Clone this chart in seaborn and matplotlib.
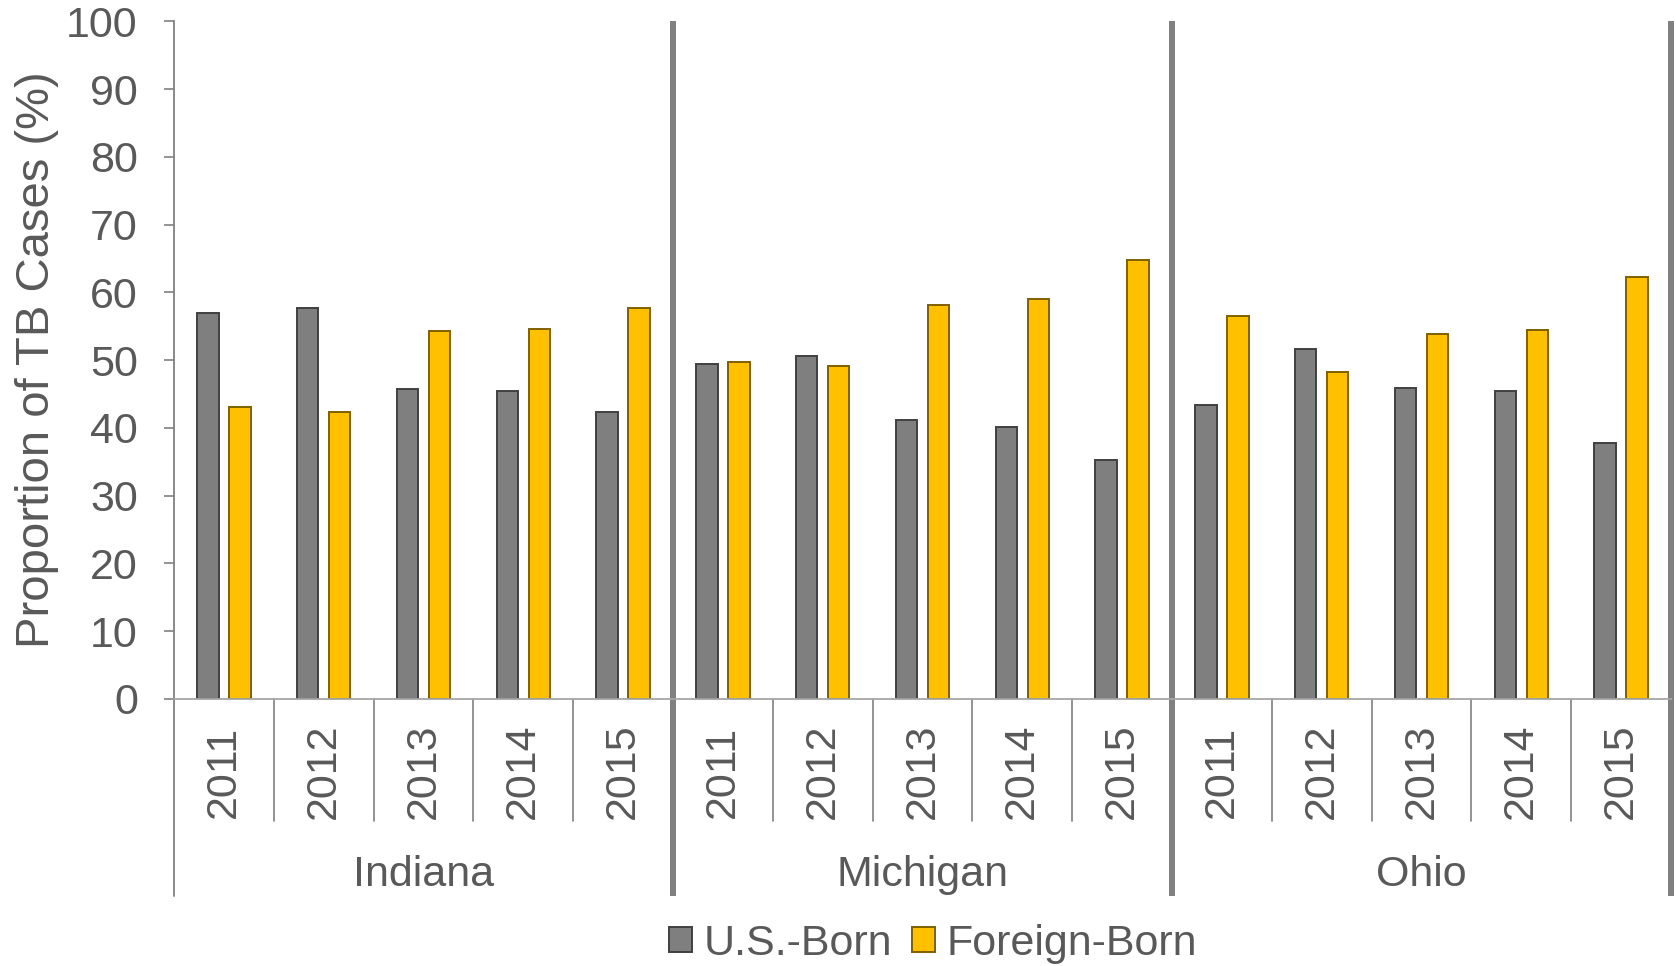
import matplotlib
matplotlib.use("Agg")
import matplotlib.pyplot as plt
import matplotlib.transforms as mtransforms
from matplotlib.patches import Patch
import seaborn as sns
import pandas as pd

states = ["Indiana", "Michigan", "Ohio"]
years = ["2011", "2012", "2013", "2014", "2015"]
series = ["U.S.-Born", "Foreign-Born"]
us_born = [56.9, 57.7, 45.7, 45.4, 42.3,
           49.4, 50.6, 41.2, 40.1, 35.2,
           43.4, 51.7, 45.9, 45.4, 37.7]
foreign_born = [43.1, 42.3, 54.3, 54.6, 57.7,
                49.7, 49.2, 58.2, 59.0, 64.8,
                56.5, 48.3, 53.9, 54.4, 62.2]
yticks = list(range(0, 101, 10))

fill_colors = {"U.S.-Born": "#7F7F7F", "Foreign-Born": "#FFC000"}
edge_colors = {"U.S.-Born": "#404040", "Foreign-Born": "#7F6000"}
text_color = "#595959"
axis_color = "#808080"

cats = [f"{s} {y}" for s in states for y in years]
rows = []
for i, c in enumerate(cats):
    rows.append({"cat": c, "group": series[0], "value": us_born[i]})
    rows.append({"cat": c, "group": series[1], "value": foreign_born[i]})
df = pd.DataFrame(rows)

sns.set_theme(style="white")
plt.rcParams["font.family"] = ["Liberation Sans", "DejaVu Sans"]

fig = plt.figure(figsize=(16.76, 9.66), dpi=100)
ax = fig.add_axes([0.1038, 0.2764, 0.997 - 0.1038, 0.978 - 0.2764])

sns.barplot(data=df, x="cat", y="value", hue="group", order=cats,
            hue_order=series, palette=fill_colors, width=0.64, gap=0.33,
            saturation=1, errorbar=None, legend=False, ax=ax)

for patch in ax.patches:
    fc = matplotlib.colors.to_hex(patch.get_facecolor())
    patch.set_edgecolor(edge_colors[series[0]] if fc.lower() == "#7f7f7f"
                        else edge_colors[series[1]])
    patch.set_linewidth(1.4)

n = len(cats)
ax.set_xlim(-0.5, n - 0.5)
ax.set_ylim(0, 100)
ax.set_yticks(yticks)
ax.set_yticklabels([str(t) for t in yticks], fontsize=31, color=text_color)
ax.tick_params(axis="y", direction="out", length=7, width=1.2,
               color=axis_color, pad=19, left=True)
ax.set_xticks([])
ax.set_xlabel("")
ax.set_ylabel("")
fig.text(37 / 1676, 1 - 360 / 966, "Proportion of TB Cases (%)", rotation=90,
         ha="center", va="center", fontsize=34, color=text_color)

for side in ["top", "right"]:
    ax.spines[side].set_visible(False)
ax.spines["left"].set_color(axis_color)
ax.spines["left"].set_linewidth(1.3)
ax.spines["bottom"].set_color("#A6A6A6")
ax.spines["bottom"].set_linewidth(1.3)

trans = mtransforms.blended_transform_factory(ax.transData, ax.transAxes)
ny = len(years)
# category boundary ticks
for i in range(n):
    if i % ny == 0:
        continue
    b = i - 0.5
    ax.plot([b, b], [0, -0.18], transform=trans, color=axis_color,
            lw=1.2, clip_on=False)
# left extension of axis
ax.plot([-0.5, -0.5], [0, -0.29], transform=trans, color=axis_color, lw=1.3,
        clip_on=False)
# state separators
for k in range(1, len(states) + 1):
    xs = k * ny - 0.5
    ax.plot([xs, xs], [-0.29, 1.0], transform=trans, color=axis_color, lw=4.3,
            clip_on=False, solid_capstyle="butt")

# year labels
for i, c in enumerate(cats):
    ax.text(i, -0.107, years[i % ny], transform=trans, rotation=90,
            ha="center", va="center", fontsize=31, color=text_color)
# state labels
for k, s in enumerate(states):
    ax.text(k * ny + (ny - 1) / 2, -0.259, s, transform=trans, ha="center",
            va="center", fontsize=31, color=text_color)

handles = [Patch(facecolor=fill_colors[s], edgecolor=edge_colors[s],
                 linewidth=1.4, label=s) for s in series]
fig.legend(handles=handles, loc="center", bbox_to_anchor=(0.5567, 0.023),
           ncol=2, frameon=False, fontsize=31, labelcolor=text_color,
           handlelength=0.53, handleheight=0.53, handletextpad=0.27,
           columnspacing=0.48, borderpad=0.1)

fig.savefig("out.png", dpi=100)
